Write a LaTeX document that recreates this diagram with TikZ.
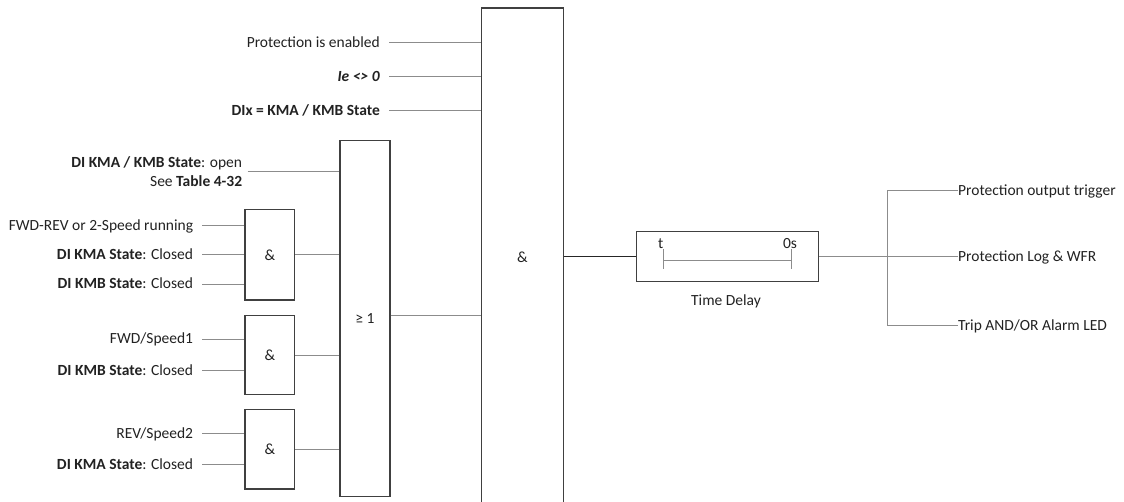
\documentclass[tikz,border=0pt]{standalone}
\usepackage{fontspec}
\setmainfont{Carlito}
\usetikzlibrary{calc}
\definecolor{txt}{HTML}{222222}
\definecolor{boxc}{HTML}{404040}
\definecolor{wire}{HTML}{8C8C8C}
\tikzset{
  gatebox/.style={draw=boxc, line width=1.4pt, fill=white, inner sep=0pt, text=txt},
  lbl/.style={inner sep=0pt, text=txt, text height=10.5pt, text depth=0.5pt},
  wireline/.style={draw=wire, line width=0.9pt},
  mainwire/.style={draw=black!85, line width=1.3pt},
}
\begin{document}
\begin{tikzpicture}[x=1pt,y=-1pt,font=\fontsize{15.5}{18.5}\selectfont]
\useasboundingbox (0,0) rectangle (1124,502);
\fill[white] (0,0) rectangle (1124,502);

% boxes
\node[gatebox, anchor=north west, minimum width=81.5pt, minimum height=499pt] (main) at (481,7.5) {\&};
\node[gatebox, anchor=north west, minimum width=50pt, minimum height=356pt] (or) at (339.3,140) {≥ 1};
\node[gatebox, anchor=north west, minimum width=49.7pt, minimum height=90.3pt] (and1) at (244.3,209) {\&};
\node[gatebox, anchor=north west, minimum width=49.7pt, minimum height=79.3pt] (and2) at (244.3,314.7) {\&};
\node[gatebox, anchor=north west, minimum width=49.7pt, minimum height=79.3pt] (and3) at (244.3,409) {\&};
\node[gatebox, anchor=north west, minimum width=182pt, minimum height=50.3pt] (td) at (636,230.7) {};

% top inputs to main
\node[lbl, anchor=east] (in1) at (380,42.3) {Protection is enabled};
\node[lbl, anchor=east] (in2) at (380,76.7) {\textbf{\textit{Ie <> 0}}};
\node[lbl, anchor=east] (in3) at (380,110.7) {\textbf{DIx = KMA / KMB State}};
\foreach \n in {in1,in2,in3}{
  \draw[wireline] ($(\n.east)+(9.3,0)$) -- (main.west |- \n.east);
}

% OR inputs
\node[inner sep=0pt, text=txt, anchor=east, align=right] (in4) at (242.3,171.7) {\textbf{DI KMA / KMB State}: open\\ See \textbf{Table 4-32}};
\draw[wireline] ($(in4.east)+(5.4,0)$) -- (or.west |- in4.east);

% AND1 inputs
\node[lbl, anchor=east] (a1) at (193.3,225.7) {FWD-REV or 2-Speed running};
\node[lbl, anchor=east] (a2) at (193.3,254.7) {\textbf{DI KMA State}: Closed};
\node[lbl, anchor=east] (a3) at (193.3,284) {\textbf{DI KMB State}: Closed};
% AND2 inputs
\node[lbl, anchor=east] (b1) at (193.3,339) {FWD/Speed1};
\node[lbl, anchor=east] (b2) at (193.3,370) {\textbf{DI KMB State}: Closed};
% AND3 inputs
\node[lbl, anchor=east] (c1) at (193.3,433.3) {REV/Speed2};
\node[lbl, anchor=east] (c2) at (193.3,464.7) {\textbf{DI KMA State}: Closed};
\foreach \n/\g in {a1/and1,a2/and1,a3/and1,b1/and2,b2/and2,c1/and3,c2/and3}{
  \draw[wireline] ($(\n.east)+(9,0)$) -- (\g.west |- \n.east);
}

% AND outputs to OR
\draw[wireline] (and1.east |- 0,254.5) -- (or.west |- 0,254.5);
\draw[wireline] (and2.east) -- (or.west |- and2.east);
\draw[wireline] (and3.east) -- (or.west |- and3.east);

% OR output to main
\coordinate (orout) at (or.east |- 0,315.5);
\draw[wireline] (orout) -- (main.west |- orout);

% main output to time delay
\draw[mainwire] (main.east |- td.west) -- (td.west);

% time delay internals
\node[inner sep=0pt, text=txt] (tt) at (660.7,244) {t};
\node[inner sep=0pt, text=txt] (ts) at (790,244) {0s};
\coordinate (tl) at (663,260);
\coordinate (tr) at (791.7,260);
\draw[wireline] (tl) -- (tr);
\draw[wireline] ($(tl)+(0,-10.5)$) -- ($(tl)+(0,9)$);
\draw[wireline] ($(tr)+(0,-10.5)$) -- ($(tr)+(0,9)$);
\node[inner sep=0pt, text=txt] (tdl) at (726,301.7) {Time Delay};

% outputs
\node[lbl, anchor=west] (o1) at (958,190.5) {Protection output trigger};
\node[lbl, anchor=west] (o2) at (958,256.5) {Protection Log \& WFR};
\node[lbl, anchor=west] (o3) at (958,325.5) {Trip AND/OR Alarm LED};
\coordinate (j) at (887,256.5);
\draw[wireline] (td.east |- j) -- (o2.west);
\draw[wireline] (o1.west) -| (j |- o1.west) -- (j |- o3.west) -- (o3.west);
\end{tikzpicture}
\end{document}
